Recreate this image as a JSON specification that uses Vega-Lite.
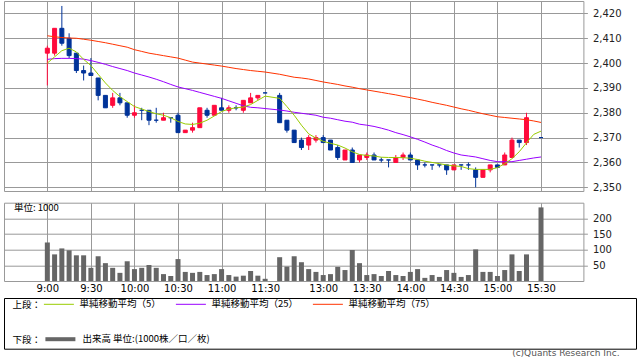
{
  "$schema": "https://vega.github.io/schema/vega-lite/v6.json",
  "background": "white",
  "padding": {"left": 3, "top": 0, "right": 0, "bottom": 0},
  "bounds": "full",
  "spacing": 3,
  "title": {"text": "(c)Quants Research Inc.", "orient": "bottom", "anchor": "end", "font": "DejaVu Sans", "fontSize": 9, "fontWeight": "normal", "color": "#555", "offset": 0, "dx": -17},
  "config": {
    "view": {"stroke": "#999", "strokeWidth": 1},
    "axis": {"gridColor": "#999", "gridWidth": 1, "gridOpacity": 1, "labelFont": "DejaVu Sans", "labelFontSize": 10, "labelColor": "#222", "tickColor": "#999", "domain": false, "title": null, "labelOverlap": false, "tickCount": 20},
    "legend": {"labelFont": "Noto Sans CJK JP", "labelFontSize": 9.5, "labelColor": "#000", "titleFont": "Noto Sans CJK JP", "titleFontSize": 9.5, "titleFontWeight": "normal", "titleColor": "#000", "padding": 0}
  },
  "datasets": {
    "px": [
      {"t":"9:00","i":0,"o":2404,"h":2407,"l":2391,"c":2406,"v":123,"ma5":2400,"ma25":2401.5,"ma75":2411},
      {"t":"9:05","i":1,"o":2404,"h":2414,"l":2403,"c":2414,"v":85,"ma5":2402.5,"ma25":2401.8,"ma75":2410.6},
      {"t":"9:10","i":2,"o":2414,"h":2423,"l":2407,"c":2408,"v":104,"ma5":2405,"ma25":2401.9,"ma75":2410.3},
      {"t":"9:15","i":3,"o":2410,"h":2412,"l":2402,"c":2403,"v":98,"ma5":2406,"ma25":2401.9,"ma75":2410.1},
      {"t":"9:20","i":4,"o":2404,"h":2404,"l":2396,"c":2397,"v":82,"ma5":2404.5,"ma25":2401.8,"ma75":2410},
      {"t":"9:25","i":5,"o":2397,"h":2399,"l":2393,"c":2396,"v":82,"ma5":2401.5,"ma25":2401.6,"ma75":2409.6},
      {"t":"9:30","i":6,"o":2396,"h":2402,"l":2395,"c":2395,"v":42,"ma5":2399,"ma25":2401,"ma75":2409.2},
      {"t":"9:35","i":7,"o":2394,"h":2394,"l":2385,"c":2387,"v":79,"ma5":2395.5,"ma25":2400.3,"ma75":2408.7},
      {"t":"9:40","i":8,"o":2387,"h":2387,"l":2382,"c":2382,"v":57,"ma5":2392,"ma25":2399.5,"ma75":2408.2},
      {"t":"9:45","i":9,"o":2383,"h":2388,"l":2382,"c":2386,"v":42,"ma5":2389,"ma25":2398.6,"ma75":2407.6},
      {"t":"9:50","i":10,"o":2386,"h":2388,"l":2383,"c":2384,"v":26,"ma5":2386.5,"ma25":2397.8,"ma75":2407},
      {"t":"9:55","i":11,"o":2384,"h":2384,"l":2378,"c":2379,"v":63,"ma5":2384.5,"ma25":2397,"ma75":2406.4},
      {"t":"10:00","i":12,"o":2379,"h":2383,"l":2378,"c":2380,"v":38,"ma5":2382.5,"ma25":2396,"ma75":2405.4},
      {"t":"10:05","i":13,"o":2381,"h":2382,"l":2377,"c":2381,"v":42,"ma5":2381.5,"ma25":2395.2,"ma75":2404.7},
      {"t":"10:10","i":14,"o":2381,"h":2381,"l":2375,"c":2377,"v":51,"ma5":2380.5,"ma25":2394.4,"ma75":2404},
      {"t":"10:15","i":15,"o":2377,"h":2382,"l":2376,"c":2377,"v":42,"ma5":2379.6,"ma25":2393.5,"ma75":2403.5},
      {"t":"10:20","i":16,"o":2377,"h":2380,"l":2377,"c":2378,"v":22,"ma5":2379,"ma25":2392.5,"ma75":2403},
      {"t":"10:25","i":17,"o":2378,"h":2378,"l":2376,"c":2378,"v":16,"ma5":2378,"ma25":2391.4,"ma75":2402.5},
      {"t":"10:30","i":18,"o":2379,"h":2380,"l":2372,"c":2372,"v":70,"ma5":2376.5,"ma25":2390.4,"ma75":2402},
      {"t":"10:35","i":19,"o":2372,"h":2373,"l":2372,"c":2373,"v":29,"ma5":2375.5,"ma25":2389.7,"ma75":2401.2},
      {"t":"10:40","i":20,"o":2373,"h":2376,"l":2372,"c":2374,"v":26,"ma5":2375.3,"ma25":2389,"ma75":2400.4},
      {"t":"10:45","i":21,"o":2374,"h":2382,"l":2374,"c":2382,"v":29,"ma5":2375.8,"ma25":2388.2,"ma75":2400},
      {"t":"10:50","i":22,"o":2381,"h":2382,"l":2378,"c":2379,"v":19,"ma5":2377,"ma25":2387.4,"ma75":2399.6},
      {"t":"10:55","i":23,"o":2379,"h":2383,"l":2379,"c":2383,"v":22,"ma5":2378.7,"ma25":2386.6,"ma75":2399.2},
      {"t":"11:00","i":24,"o":2382,"h":2386,"l":2381,"c":2381,"v":38,"ma5":2380.5,"ma25":2385.8,"ma75":2398.8},
      {"t":"11:05","i":25,"o":2381,"h":2383,"l":2380,"c":2382,"v":19,"ma5":2381.5,"ma25":2384.8,"ma75":2398.3},
      {"t":"11:10","i":26,"o":2382,"h":2383,"l":2381,"c":2382,"v":14,"ma5":2382,"ma25":2383.8,"ma75":2397.8},
      {"t":"11:15","i":27,"o":2381,"h":2385,"l":2380,"c":2385,"v":17,"ma5":2382.3,"ma25":2382.8,"ma75":2397.4},
      {"t":"11:20","i":28,"o":2384,"h":2388,"l":2384,"c":2386,"v":32,"ma5":2383.3,"ma25":2382.2,"ma75":2397},
      {"t":"11:25","i":29,"o":2386,"h":2387,"l":2385,"c":2387,"v":17,"ma5":2385,"ma25":2382,"ma75":2396.7},
      {"t":"11:30","i":30,"o":2388,"h":2388,"l":2388,"c":2388,"v":7,"ma5":2386.7,"ma25":2381.7,"ma75":2396.4},
      {"t":"12:30","i":32,"o":2387,"h":2388,"l":2376,"c":2376,"v":76,"ma5":2385.8,"ma25":2381.1,"ma75":2395.5},
      {"t":"12:35","i":33,"o":2377,"h":2377,"l":2372,"c":2373,"v":46,"ma5":2382.5,"ma25":2380.7,"ma75":2394.9},
      {"t":"12:40","i":34,"o":2373,"h":2373,"l":2368,"c":2368,"v":79,"ma5":2379,"ma25":2380.2,"ma75":2394.3},
      {"t":"12:45","i":35,"o":2369,"h":2370,"l":2365,"c":2366,"v":60,"ma5":2375,"ma25":2379.8,"ma75":2394},
      {"t":"12:50","i":36,"o":2367,"h":2371,"l":2365,"c":2370,"v":38,"ma5":2371.5,"ma25":2379.4,"ma75":2393.6},
      {"t":"12:55","i":37,"o":2369,"h":2371,"l":2368,"c":2370,"v":29,"ma5":2369.8,"ma25":2379,"ma75":2393},
      {"t":"13:00","i":38,"o":2370,"h":2371,"l":2368,"c":2368,"v":19,"ma5":2368.5,"ma25":2378.2,"ma75":2392.4},
      {"t":"13:05","i":39,"o":2369,"h":2369,"l":2365,"c":2365,"v":22,"ma5":2367.7,"ma25":2377.8,"ma75":2391.9},
      {"t":"13:10","i":40,"o":2366,"h":2367,"l":2361,"c":2362,"v":45,"ma5":2367,"ma25":2377.2,"ma75":2391.4},
      {"t":"13:15","i":41,"o":2361,"h":2365,"l":2361,"c":2365,"v":35,"ma5":2365.8,"ma25":2376.6,"ma75":2390.8},
      {"t":"13:20","i":42,"o":2365,"h":2366,"l":2360,"c":2360,"v":99,"ma5":2364.3,"ma25":2376.2,"ma75":2390.3},
      {"t":"13:25","i":43,"o":2361,"h":2363,"l":2360,"c":2363,"v":57,"ma5":2363.2,"ma25":2375.4,"ma75":2389.7},
      {"t":"13:30","i":44,"o":2362,"h":2364,"l":2361,"c":2363,"v":19,"ma5":2362.8,"ma25":2375,"ma75":2389.2},
      {"t":"13:35","i":45,"o":2363,"h":2364,"l":2361,"c":2361,"v":22,"ma5":2362.6,"ma25":2374.5,"ma75":2388.7},
      {"t":"13:40","i":46,"o":2361,"h":2362,"l":2360,"c":2361,"v":16,"ma5":2362.1,"ma25":2373.8,"ma75":2388.2},
      {"t":"13:45","i":47,"o":2361,"h":2361,"l":2358,"c":2361,"v":32,"ma5":2362,"ma25":2373,"ma75":2387.7},
      {"t":"13:50","i":48,"o":2360,"h":2363,"l":2360,"c":2362,"v":19,"ma5":2362,"ma25":2372,"ma75":2387.2},
      {"t":"13:55","i":49,"o":2362,"h":2364,"l":2361,"c":2363,"v":16,"ma5":2361.9,"ma25":2371.2,"ma75":2386.6},
      {"t":"14:00","i":50,"o":2363,"h":2364,"l":2361,"c":2361,"v":29,"ma5":2361.7,"ma25":2370.3,"ma75":2386.1},
      {"t":"14:05","i":51,"o":2361,"h":2361,"l":2357,"c":2359,"v":38,"ma5":2361.2,"ma25":2369.3,"ma75":2385.5},
      {"t":"14:10","i":52,"o":2359,"h":2360,"l":2358,"c":2359,"v":10,"ma5":2360.5,"ma25":2368.2,"ma75":2384.9},
      {"t":"14:15","i":53,"o":2359,"h":2359,"l":2357,"c":2359,"v":19,"ma5":2360,"ma25":2367,"ma75":2384.2},
      {"t":"14:20","i":54,"o":2359,"h":2359,"l":2358,"c":2359,"v":13,"ma5":2359.5,"ma25":2366,"ma75":2383.6},
      {"t":"14:25","i":55,"o":2359,"h":2359,"l":2355,"c":2357,"v":35,"ma5":2359,"ma25":2364.8,"ma75":2383},
      {"t":"14:30","i":56,"o":2357,"h":2359,"l":2357,"c":2359,"v":26,"ma5":2358.6,"ma25":2363.8,"ma75":2382.3},
      {"t":"14:35","i":57,"o":2359,"h":2359,"l":2357,"c":2359,"v":13,"ma5":2358.4,"ma25":2363,"ma75":2381.6},
      {"t":"14:40","i":58,"o":2359,"h":2360,"l":2357,"c":2359,"v":19,"ma5":2357.5,"ma25":2362.6,"ma75":2381},
      {"t":"14:45","i":59,"o":2357,"h":2358,"l":2350,"c":2354,"v":101,"ma5":2357.2,"ma25":2362.2,"ma75":2380.3},
      {"t":"14:50","i":60,"o":2354,"h":2357,"l":2354,"c":2357,"v":29,"ma5":2357.2,"ma25":2361.5,"ma75":2379.6},
      {"t":"14:55","i":61,"o":2357,"h":2359,"l":2356,"c":2359,"v":29,"ma5":2357.2,"ma25":2360.8,"ma75":2379},
      {"t":"15:00","i":62,"o":2359,"h":2359,"l":2358,"c":2358,"v":16,"ma5":2357.9,"ma25":2360.3,"ma75":2378.4},
      {"t":"15:05","i":63,"o":2359,"h":2364,"l":2359,"c":2363,"v":35,"ma5":2359.5,"ma25":2360.3,"ma75":2378.1},
      {"t":"15:10","i":64,"o":2362,"h":2370,"l":2362,"c":2369,"v":85,"ma5":2361.5,"ma25":2360.3,"ma75":2377.8},
      {"t":"15:15","i":65,"o":2369,"h":2369,"l":2366,"c":2368,"v":32,"ma5":2364.3,"ma25":2360.8,"ma75":2377.5},
      {"t":"15:20","i":66,"o":2368,"h":2380,"l":2367,"c":2378,"v":85,"ma5":2367.9,"ma25":2361.3,"ma75":2377.2},
      {"t":"15:25","i":67,"o":null,"h":null,"l":null,"c":null,"v":null,"ma5":2371.3,"ma25":2361.8,"ma75":2376.7},
      {"t":"15:30","i":68,"o":2370,"h":2370,"l":2370,"c":2370,"v":235,"ma5":2372.6,"ma25":2362.2,"ma75":2376.1}
    ]
  },
  "vconcat": [
    {
      "bounds": "flush",
      "spacing": 11.7,
      "vconcat": [
        {
          "width": 579.4,
          "height": 190,
          "data": {"name": "px"},
          "encoding": {
            "x": {"field": "i", "type": "quantitative", "scale": {"domain": [-5.28, 73.15], "nice": false, "zero": false},
                  "axis": {"orient": "bottom", "values": [0, 6, 12, 18, 24, 30, 38, 44, 50, 56, 62, 68], "labels": false, "ticks": false, "tickSize": 0, "domain": false, "grid": true, "title": null}}
          },
          "layer": [
            {
              "transform": [{"filter": "isValid(datum.o)"}],
              "mark": {"type": "rule", "strokeWidth": 1},
              "encoding": {
                "y": {"field": "l", "type": "quantitative", "scale": {"domain": [2348.5, 2425], "nice": false, "zero": false},
                      "axis": {"orient": "right", "values": [2350, 2360, 2370, 2380, 2390, 2400, 2410, 2420], "labelExpr": "format(datum.value, ',')", "tickSize": 4, "labelPadding": 5, "grid": true, "title": null}},
                "y2": {"field": "h"},
                "color": {"condition": {"test": "datum.c > datum.o", "value": "#ff0a3c"}, "value": "#003399"}
              }
            },
            {
              "transform": [{"filter": "isValid(datum.o)"}],
              "mark": {"type": "bar", "size": 4, "strokeWidth": 1},
              "encoding": {
                "y": {"field": "o", "type": "quantitative",
                      "axis": {"orient": "right", "values": [2350, 2360, 2370, 2380, 2390, 2400, 2410, 2420], "labelExpr": "format(datum.value, ',')", "tickSize": 4, "labelPadding": 5, "grid": true, "title": null}},
                "y2": {"field": "c"},
                "color": {"condition": {"test": "datum.c > datum.o", "value": "#ff0a3c"}, "value": "#003399"},
                "stroke": {"condition": {"test": "datum.c > datum.o", "value": "#ff0a3c"}, "value": "#003399"}
              }
            },
            {
              "mark": {"type": "line", "color": "#ff3300", "strokeWidth": 1},
              "encoding": {"y": {"field": "ma75", "type": "quantitative",
                      "axis": {"orient": "right", "values": [2350, 2360, 2370, 2380, 2390, 2400, 2410, 2420], "labelExpr": "format(datum.value, ',')", "tickSize": 4, "labelPadding": 5, "grid": true, "title": null}}}
            },
            {
              "mark": {"type": "line", "color": "#9900ff", "strokeWidth": 1},
              "encoding": {"y": {"field": "ma25", "type": "quantitative",
                      "axis": {"orient": "right", "values": [2350, 2360, 2370, 2380, 2390, 2400, 2410, 2420], "labelExpr": "format(datum.value, ',')", "tickSize": 4, "labelPadding": 5, "grid": true, "title": null}}}
            },
            {
              "mark": {"type": "line", "color": "#99cc00", "strokeWidth": 1},
              "encoding": {"y": {"field": "ma5", "type": "quantitative",
                      "axis": {"orient": "right", "values": [2350, 2360, 2370, 2380, 2390, 2400, 2410, 2420], "labelExpr": "format(datum.value, ',')", "tickSize": 4, "labelPadding": 5, "grid": true, "title": null}}}
            }
          ]
        },
        {
          "width": 579.4,
          "height": 78.3,
          "layer": [
            {
              "data": {"name": "px"},
              "transform": [{"filter": "isValid(datum.v)"}],
              "mark": {"type": "bar", "size": 5, "color": "#666666"},
              "encoding": {
                "x": {"field": "i", "type": "quantitative", "scale": {"domain": [-5.28, 73.15], "nice": false, "zero": false},
                      "axis": {"orient": "bottom", "values": [0, 6, 12, 18, 24, 30, 38, 44, 50, 56, 62, 68], "ticks": false, "tickSize": 0, "labelPadding": 2, "domain": false, "grid": true, "labelColor": "#000", "title": null,
                               "labelExpr": "datum.value <= 30 ? ['9:00','9:30','10:00','10:30','11:00','11:30'][datum.value / 6] : ['13:00','13:30','14:00','14:30','15:00','15:30'][(datum.value - 38) / 6]"}},
                "y": {"field": "v", "type": "quantitative", "scale": {"domain": [0, 250], "nice": false},
                      "axis": {"orient": "right", "values": [50, 100, 150, 200], "tickCount": 20, "tickSize": 4, "labelPadding": 5, "grid": true, "title": null}}
              }
            },
            {
              "data": {"values": [{"s": "単位: 1000"}]},
              "mark": {"type": "text", "align": "left", "baseline": "middle", "font": "Noto Sans CJK JP", "fontSize": 9.5, "color": "#000", "dx": 5, "dy": 5},
              "encoding": {
                "x": {"datum": -5.28, "type": "quantitative"},
                "y": {"datum": 250, "type": "quantitative", "axis": {"orient": "right", "values": [50, 100, 150, 200], "tickCount": 20, "tickSize": 4, "labelPadding": 5, "grid": true, "title": null}},
                "text": {"field": "s"}
              }
            }
          ]
        }
      ]
    },
    {
      "width": 632,
      "height": 50.7,
      "view": {"stroke": "#000", "strokeWidth": 1},
      "layer": [
        {
          "data": {"values": []},
          "mark": {"type": "line"},
          "encoding": {
            "color": {"field": "k", "type": "nominal",
                      "scale": {"domain": ["単純移動平均（5）", "単純移動平均（25）", "単純移動平均（75）"], "range": ["#99cc00", "#9900ff", "#ff3300"]},
                      "legend": {"orient": "none", "legendX": 8.4, "legendY": 287.8, "direction": "horizontal", "title": "上段：", "titleOrient": "left", "titleAnchor": "middle", "titleBaseline": "middle", "titlePadding": 2, "symbolType": "stroke", "symbolSize": 900, "symbolStrokeWidth": 1, "columnPadding": 12, "labelOffset": 5,
                                 "encode": {"title": {"update": {"dy": {"value": 6}}}}}}
          }
        },
        {
          "data": {"values": []},
          "mark": {"type": "line"},
          "encoding": {
            "stroke": {"field": "k", "type": "nominal",
                       "scale": {"domain": ["出来高 単位:(1000株／口／枚)"], "range": ["#666666"]},
                       "legend": {"orient": "none", "legendX": 8.4, "legendY": 321.2, "direction": "horizontal", "title": "下段：", "titleOrient": "left", "titleAnchor": "middle", "titleBaseline": "middle", "titlePadding": 2, "symbolType": "stroke", "symbolSize": 900, "symbolStrokeWidth": 4, "labelOffset": 5,
                                 "encode": {"title": {"update": {"dy": {"value": 5}}}}}}
          }
        }
      ]
    }
  ]
}
